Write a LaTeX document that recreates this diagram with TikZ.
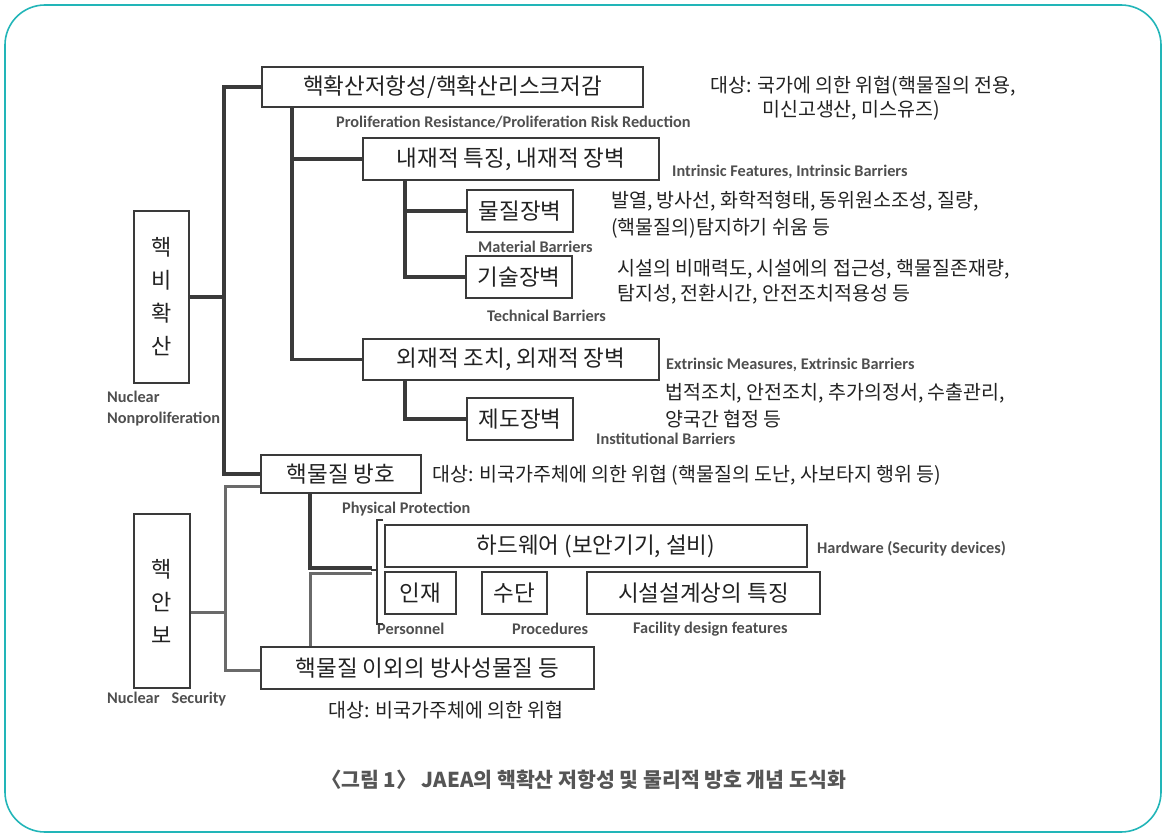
\documentclass[tikz,border=0pt]{standalone}
\usepackage{fontspec}
\newfontfamily\kr{Noto Sans CJK KR}
\newfontfamily\en{Carlito}
\usetikzlibrary{calc}
\definecolor{frame}{HTML}{22B5B8}
\definecolor{ink}{HTML}{222222}
\definecolor{lineA}{HTML}{3A3A3A}
\definecolor{lineB}{HTML}{6A6A6A}
\definecolor{entxt}{HTML}{4F4F4F}
\definecolor{cap}{HTML}{555555}
\tikzset{
  box/.style={draw=lineA, line width=2, inner sep=0, text=ink, font=\kr\fontsize{22.5}{26}\selectfont},
  conn/.style={draw=lineA, line width=3.5},
  conn2/.style={draw=lineB, line width=3},
  side/.style={anchor=west, inner sep=0, text=ink, align=left, font=\kr\fontsize{19.5}{27}\selectfont},
  eng/.style={anchor=west, inner sep=0, text=entxt, font=\en\bfseries\fontsize{16.3}{17}\selectfont},
}
\begin{document}
\begin{tikzpicture}[x=1pt,y=-1pt]
\useasboundingbox (0,0) rectangle (1167,835);
\draw[frame, line width=1.6, rounded corners=40] (5,5) rectangle (1161,832);

% main boxes
\node[box, minimum width=381, minimum height=40] (A) at (452.5,87) {핵확산저항성/핵확산리스크저감};
\node[box, minimum width=296, minimum height=42] (B) at (511,159) {내재적 특징, 내재적 장벽};
\node[box, minimum width=106, minimum height=42] (C) at (520,211) {물질장벽};
\node[box, minimum width=106, minimum height=42] (D) at (519,277) {기술장벽};
\node[box, minimum width=296, minimum height=41] (E) at (511,359.5) {외재적 조치, 외재적 장벽};
\node[box, minimum width=106, minimum height=42] (F) at (520,419) {제도장벽};
\node[box, minimum width=160, minimum height=38] (G) at (341,474) {핵물질 방호};
\node[box, minimum width=422, minimum height=42] (H) at (596,546) {하드웨어 (보안기기, 설비)};
\node[box, minimum width=71, minimum height=42] (I) at (420.5,593) {인재};
\node[box, minimum width=65, minimum height=42] (J) at (514.5,593) {수단};
\node[box, minimum width=233, minimum height=42] (K) at (703.5,593) {시설설계상의 특징};
\node[box, minimum width=333, minimum height=42] (L) at (427.5,668) {핵물질 이외의 방사성물질 등};
\node[box, minimum width=55, minimum height=172, align=center, font=\kr\fontsize{22}{33}\selectfont] (M) at (161.5,297) {핵\\비\\확\\산};
\node[box, minimum width=56, minimum height=174, align=center, font=\kr\fontsize{22}{33}\selectfont] (N) at (162,601) {핵\\안\\보};

% english labels
\node[eng] (eA) at (336,122) {Proliferation Resistance/Proliferation Risk Reduction};
\node[eng] (eB) at (672,172) {Intrinsic Features, Intrinsic Barriers};
\node[eng] (eC) at (478,247) {Material Barriers};
\node[eng] (eD) at (487,316) {Technical Barriers};
\node[eng] (eE) at (666,365) {Extrinsic Measures, Extrinsic Barriers};
\node[eng] (eF) at (596,439) {Institutional Barriers};
\node[eng] (eG) at (342,509) {Physical Protection};
\node[eng] (eH) at (817,549) {Hardware (Security devices)};
\node[eng] (eI) at (377,629) {Personnel};
\node[eng] (eJ) at (512,629) {Procedures};
\node[eng] (eK) at (633,629) {Facility design features};
\node[eng, align=left, font=\en\bfseries\fontsize{16.3}{21}\selectfont] (eM) at (107,409) {Nuclear\\Nonproliferation};
\node[eng] (eN) at (107,699) {Nuclear\hspace{12pt}Security};

% side texts
\node[side, font=\kr\fontsize{19.5}{24}\selectfont] (sA) at (710,98) {대상: 국가에 의한 위협(핵물질의 전용,\\\hspace*{52pt}미신고생산, 미스유즈)};
\node[side] (sC) at (611,214.5) {발열, 방사선, 화학적형태, 동위원소조성, 질량,\\(핵물질의)탐지하기 쉬움 등};
\node[side, font=\kr\fontsize{19.5}{25}\selectfont] (sD) at (617,281.5) {시설의 비매력도, 시설에의 접근성, 핵물질존재량,\\탐지성, 전환시간, 안전조치적용성 등};
\node[side] (sE) at (665,405.5) {법적조치, 안전조치, 추가의정서, 수출관리,\\양국간 협정 등};
\node[side] (sG) at (432,475) {대상: 비국가주체에 의한 위협 (핵물질의 도난, 사보타지 행위 등)};
\node[side] (sL) at (328,710) {대상: 비국가주체에 의한 위협};

% caption
\node[inner sep=0, text=cap, font=\kr\bfseries\fontsize{20.5}{24}\selectfont] (cap) at (583.5,780) {〈그림 1〉 JAEA의 핵확산 저항성 및 물리적 방호 개념 도식화};

% connectors
\coordinate (j1) at (224,297);
\draw[conn] (M.east) -- (j1);
\draw[conn] (A.west) -| (j1) |- (G.west);
\coordinate (j2) at (225,612);
\draw[conn2] (N.east |- j2) -- (j2);
\draw[conn2] ($(G.west)+(0,12)$) -| (j2) |- ($(L.west)+(0,2)$);

\draw[conn] ($(A.south west)+(31,0)$) |- (E.west);
\draw[conn] ($(A.south west)+(31,0)$) |- (B.west);
\draw[conn] ($(B.south west)+(43,0)$) |- (D.west);
\draw[conn] ($(B.south west)+(43,0)$) |- (C.west);
\draw[conn] ($(E.south west)+(43,0)$) |- (F.west);

\coordinate (brk) at (372,568);
\draw[conn] ($(G.south west)+(50,0)$) |- (brk);
\draw[conn2] ($(L.north west)+(50,0)$) |- ($(brk)+(0,5)$);
% bracket
\draw[lineA, line width=2.5] (383,520) -- (377,520) -- (377,624) -- (383,624);
\draw[lineA, line width=2.5] (371,570) -- (377,570);
\end{tikzpicture}
\end{document}
